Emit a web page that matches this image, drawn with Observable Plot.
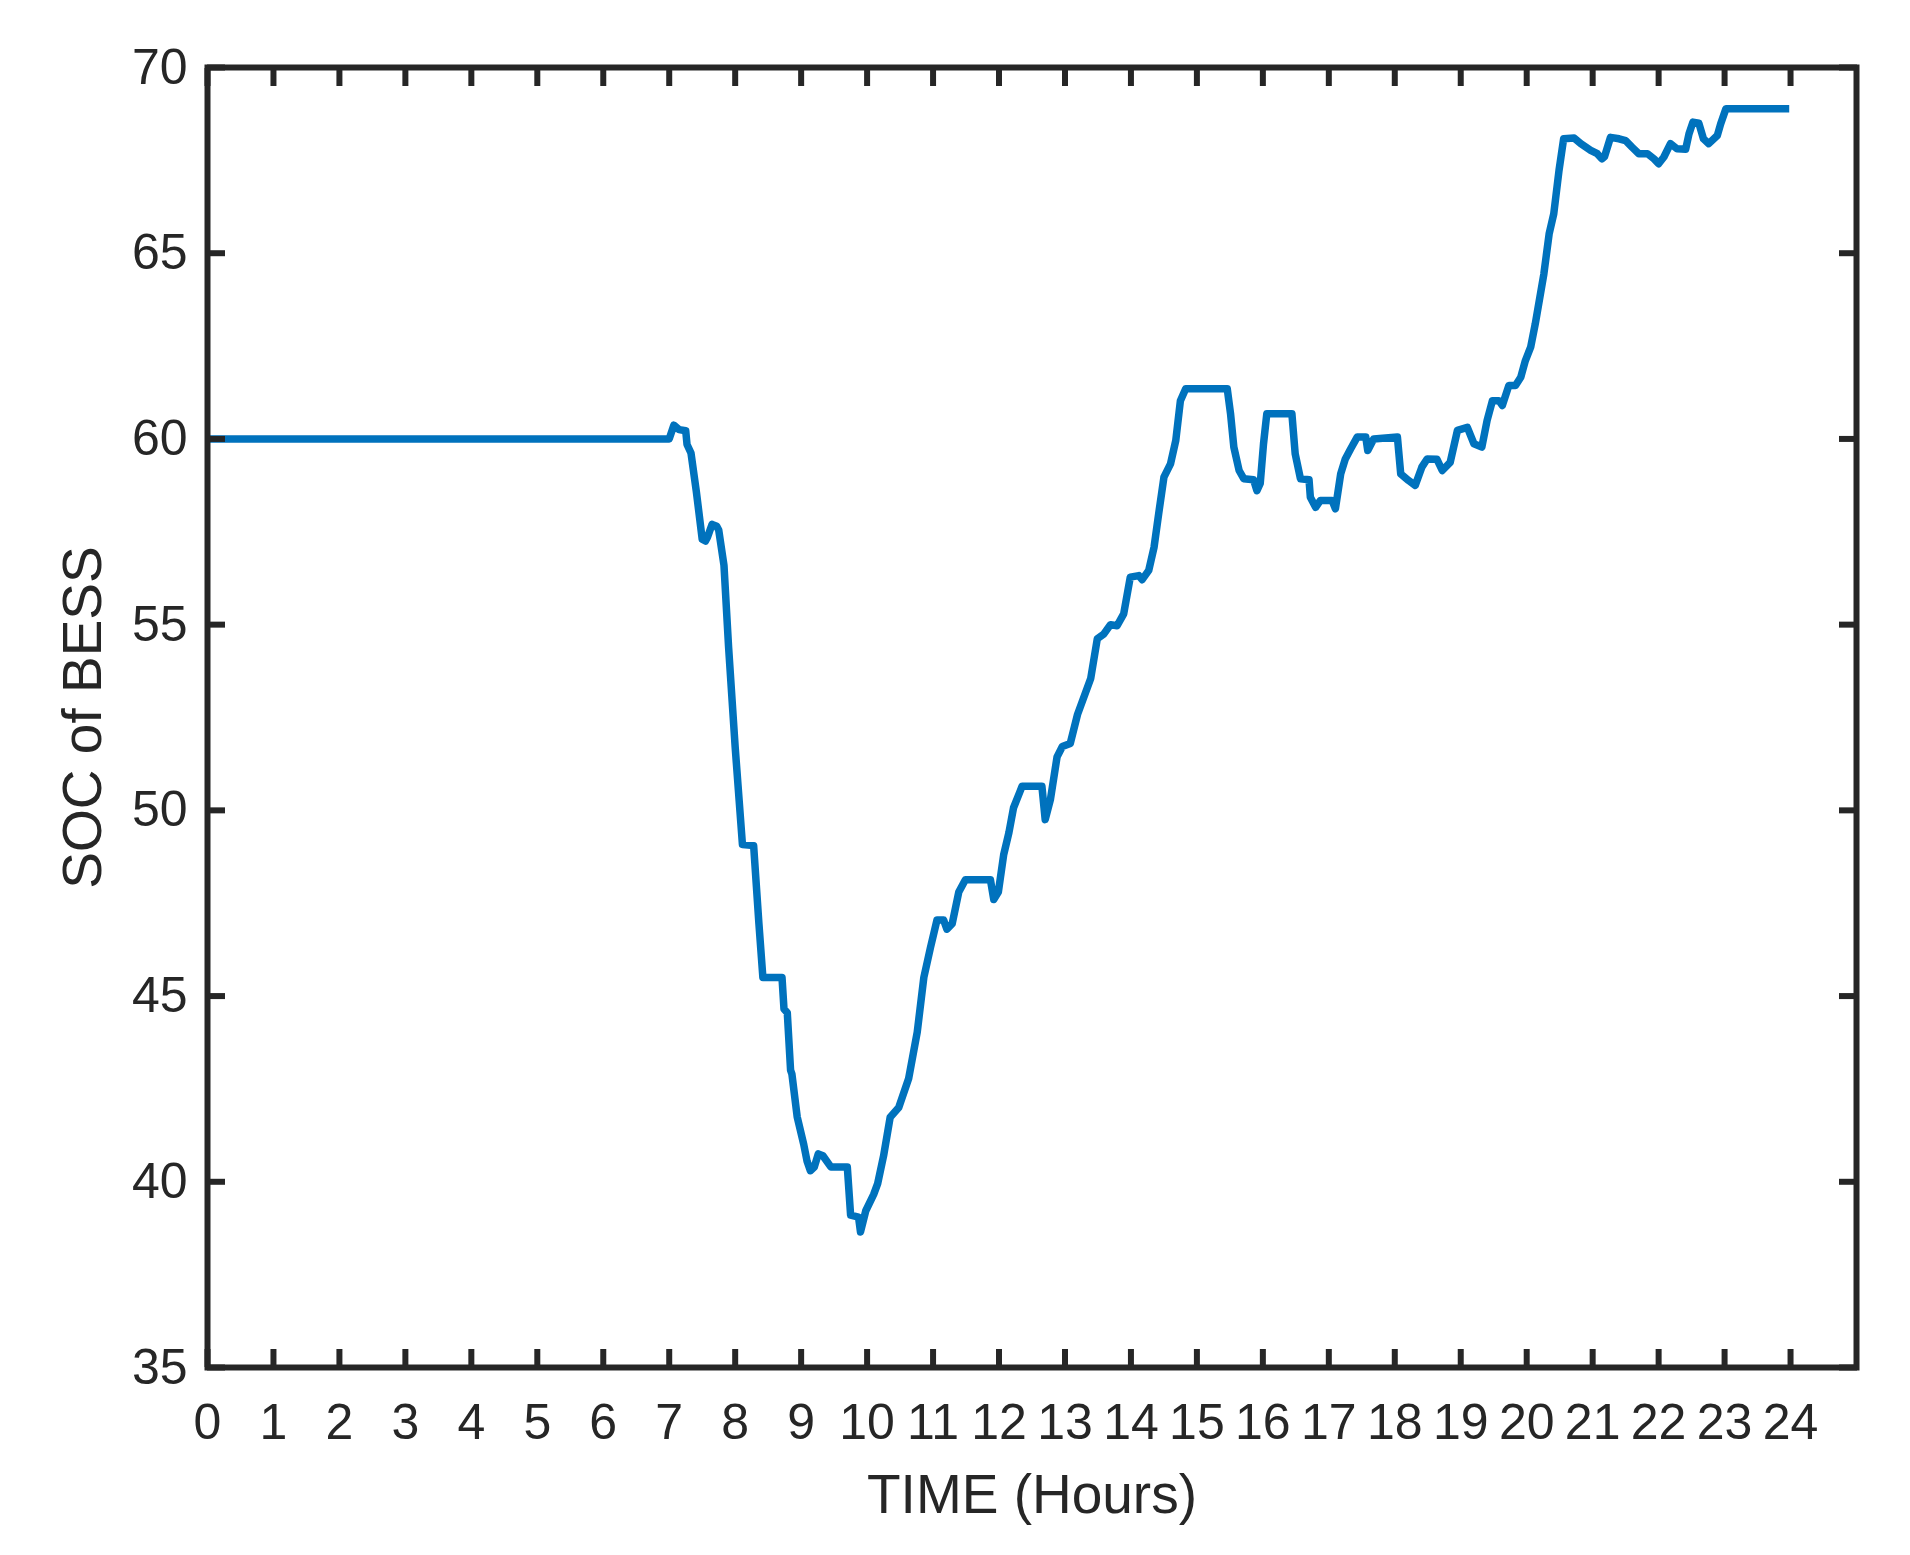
<!DOCTYPE html>
<html>
<head>
<meta charset="utf-8">
<script src="https://cdn.jsdelivr.net/npm/d3@7"></script>
<script src="https://cdn.jsdelivr.net/npm/@observablehq/plot@0.6"></script>
<style>
  html, body { margin: 0; padding: 0; background: #ffffff; }
  #chart svg { display: block; }
</style>
</head>
<body>
<div id="chart"></div>
<script>
const hours = [0, 7.0, 7.07, 7.15, 7.25, 7.27, 7.33, 7.41, 7.50, 7.55, 7.58, 7.65, 7.72, 7.75, 7.83, 7.90, 8.0, 8.11, 8.28, 8.36, 8.42, 8.71, 8.74, 8.79, 8.84, 8.86, 8.94, 9.04, 9.09, 9.14, 9.2, 9.26, 9.33, 9.45, 9.70, 9.75, 9.87, 9.90, 9.98, 10.1, 10.16, 10.25, 10.35, 10.48, 10.63, 10.76, 10.86, 10.96, 11.06, 11.16, 11.21, 11.29, 11.39, 11.49, 11.87, 11.92, 11.99, 12.07, 12.15, 12.22, 12.35, 12.65, 12.70, 12.78, 12.88, 12.96, 13.08, 13.19, 13.39, 13.49, 13.59, 13.69, 13.79, 13.89, 13.99, 14.12, 14.17, 14.27, 14.35, 14.42, 14.50, 14.60, 14.68, 14.75, 14.83, 15.46, 15.51, 15.56, 15.64, 15.71, 15.86, 15.91, 15.96, 16.01, 16.06, 16.44, 16.49, 16.57, 16.70, 16.72, 16.80, 16.87, 17.05, 17.10, 17.18, 17.25, 17.33, 17.43, 17.56, 17.59, 17.68, 18.04, 18.09, 18.21, 18.31, 18.41, 18.49, 18.64, 18.72, 18.84, 18.95, 19.10, 19.20, 19.32, 19.40, 19.48, 19.58, 19.63, 19.73, 19.83, 19.91, 19.98, 20.06, 20.13, 20.26, 20.34, 20.41, 20.49, 20.56, 20.72, 20.82, 20.97, 21.07, 21.14, 21.18, 21.27, 21.40, 21.50, 21.60, 21.70, 21.83, 21.93, 22.0, 22.08, 22.18, 22.28, 22.41, 22.46, 22.52, 22.61, 22.68, 22.76, 22.89, 22.94, 23.02, 23.98];
const soc = [60, 60, 60.37, 60.25, 60.22, 59.85, 59.62, 58.6, 57.3, 57.25, 57.35, 57.7, 57.65, 57.55, 56.6, 54.4, 51.7, 49.08, 49.05, 46.95, 45.5, 45.5, 44.65, 44.55, 43.0, 42.9, 41.75, 41.0, 40.55, 40.3, 40.4, 40.75, 40.7, 40.4, 40.4, 39.1, 39.05, 38.65, 39.22, 39.66, 39.95, 40.7, 41.74, 42.0, 42.78, 44.03, 45.5, 46.3, 47.05, 47.05, 46.8, 46.95, 47.8, 48.13, 48.13, 47.6, 47.8, 48.8, 49.4, 50.07, 50.65, 50.65, 49.75, 50.3, 51.44, 51.72, 51.8, 52.58, 53.55, 54.62, 54.75, 55.0, 54.97, 55.29, 56.28, 56.32, 56.21, 56.46, 57.08, 57.98, 58.97, 59.33, 59.96, 61.03, 61.35, 61.35, 60.68, 59.78, 59.15, 58.93, 58.9, 58.61, 58.8, 59.87, 60.68, 60.68, 59.6, 58.93, 58.9, 58.43, 58.16, 58.34, 58.34, 58.12, 59.06, 59.46, 59.73, 60.05, 60.05, 59.69, 60.0, 60.05, 59.06, 58.88, 58.75, 59.24, 59.46, 59.45, 59.15, 59.37, 60.23, 60.31, 59.87, 59.78, 60.5, 61.03, 61.03, 60.9, 61.44, 61.44, 61.66, 62.11, 62.47, 63.1, 64.44, 65.52, 66.06, 67.23, 68.08, 68.1, 67.95, 67.77, 67.68, 67.54, 67.6, 68.12, 68.08, 68.03, 67.85, 67.68, 67.68, 67.54, 67.41, 67.59, 67.95, 67.81, 67.8, 68.21, 68.53, 68.5, 68.08, 67.95, 68.17, 68.48, 68.89, 68.89];
const xTicks = [0, 1, 2, 3, 4, 5, 6, 7, 8, 9, 10, 11, 12, 13, 14, 15, 16, 17, 18, 19, 20, 21, 22, 23, 24];
const yTicks = [35, 40, 45, 50, 55, 60, 65, 70];
const xLabel = "TIME (Hours)";
const yLabel = "SOC of BESS";

const data = hours.map((h, i) => ({h, v: soc[i]}));
const ink = "#262626";

const chart = Plot.plot({
  width: 1910,
  height: 1555,
  marginLeft: 207,
  marginRight: 54,
  marginTop: 67,
  marginBottom: 188,
  style: {fontFamily: "'Liberation Sans', Arial, Helvetica, sans-serif", color: ink, background: "#ffffff"},
  x: {domain: [0, 25]},
  y: {domain: [35, 70]},
  marks: [
    Plot.line(data, {x: "h", y: "v", stroke: "#0072BD", strokeWidth: 7.5, strokeLinejoin: "round", strokeLinecap: "butt", curve: "linear"}),
    // inward tick marks on all four sides
    Plot.axisX(xTicks, {anchor: "bottom", tickSize: -18, strokeWidth: 6, stroke: ink, tickFormat: () => "", label: null}),
    Plot.axisX(xTicks, {anchor: "top", tickSize: -18, strokeWidth: 6, stroke: ink, tickFormat: () => "", label: null}),
    Plot.axisY(yTicks, {anchor: "left", tickSize: -18, strokeWidth: 6, stroke: ink, tickFormat: () => "", label: null}),
    Plot.axisY(yTicks, {anchor: "right", tickSize: -18, strokeWidth: 6, stroke: ink, tickFormat: () => "", label: null}),
    // tick labels
    Plot.axisX(xTicks, {anchor: "bottom", tickSize: 0, tickPadding: 36, fontSize: 50, fill: ink, label: null}),
    Plot.axisY(yTicks, {anchor: "left", tickSize: 0, tickPadding: 20, fontSize: 50, fill: ink, label: null}),
    Plot.frame({stroke: ink, strokeWidth: 6}),
    // axis titles
    Plot.text([xLabel], {frameAnchor: "bottom", lineAnchor: "middle", textAnchor: "middle", dy: 128, fontSize: 55, fill: ink, text: d => d}),
    Plot.text([yLabel], {frameAnchor: "left", lineAnchor: "middle", textAnchor: "middle", rotate: -90, dx: -124, fontSize: 55, fill: ink, text: d => d})
  ]
});
document.getElementById("chart").appendChild(chart);
</script>
</body>
</html>
